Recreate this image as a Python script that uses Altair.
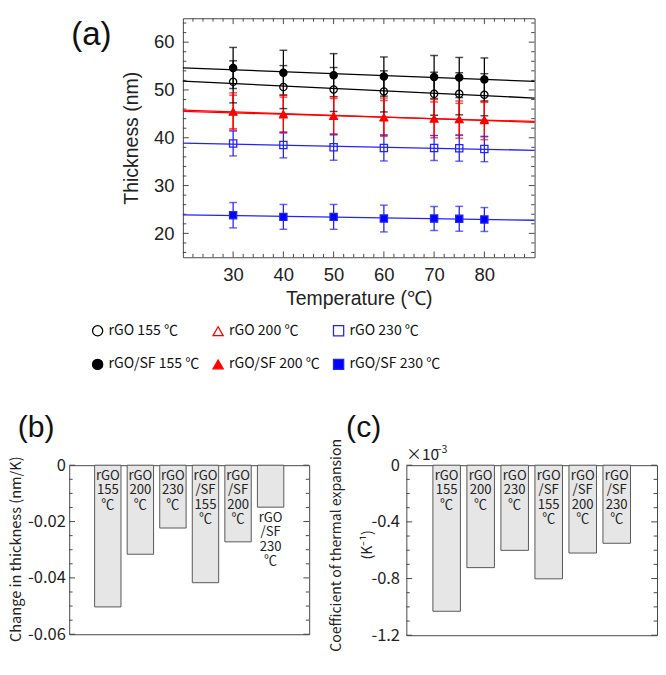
import altair as alt
import pandas as pd

# ---------------- panel (a) data ----------------
temps = [30, 40, 50, 60, 70, 75, 80]
series_names = ["rGO 155 ℃", "rGO 200 ℃", "rGO 230 ℃",
                "rGO/SF 155 ℃", "rGO/SF 200 ℃", "rGO/SF 230 ℃"]

rgo155 = [51.7, 50.6, 50.1, 49.7, 49.2, 49.2, 49.0]
rgo155_err = [4.4, 4.5, 4.6, 4.3, 4.5, 4.4, 4.4]
rgo200 = [45.5, 45.0, 44.6, 44.3, 44.0, 43.8, 43.6]
rgo200_err = [3.9, 4.0, 4.0, 4.0, 4.0, 3.9, 4.0]
rgo230 = [38.8, 38.5, 38.0, 37.85, 37.85, 37.8, 37.65]
rgo230_err = [2.6, 2.7, 2.7, 2.7, 2.6, 2.7, 2.65]
sf155 = [54.6, 53.6, 53.1, 52.8, 52.7, 52.6, 52.2]
sf155_err = [4.3, 4.7, 4.5, 4.1, 4.5, 4.2, 4.5]
sf200 = [45.4, 44.8, 44.5, 44.2, 44.0, 43.9, 43.8]
sf200_err = [3.5, 3.7, 3.7, 3.6, 3.5, 3.3, 3.6]
sf230 = [23.8, 23.45, 23.45, 23.1, 23.1, 23.05, 22.9]
sf230_err = [2.65, 2.6, 2.6, 2.8, 2.5, 2.6, 2.5]

series_colors = ["#000000", "#ff0000", "#2222ff", "#000000", "#ff0000", "#2222ff"]
series_fills = ["transparent", "transparent", "transparent", "#000000", "#ff0000", "#0000ff"]
series_shapes = ["circle", "triangle-up", "square", "circle", "triangle-up", "square"]
# legend order (filled column by column: two rows, three columns)
legend_order = [0, 3, 1, 4, 2, 5]

x_major = [30, 40, 50, 60, 70, 80]
x_minor = [22, 24, 26, 28, 32, 34, 36, 38, 42, 44, 46, 48, 52, 54, 56, 58,
           62, 64, 66, 68, 72, 74, 76, 78, 82, 84, 86, 88]
y_major = [20, 30, 40, 50, 60]
y_minor = [16, 18, 22, 24, 26, 28, 32, 34, 36, 38, 42, 44, 46, 48,
           52, 54, 56, 58, 62, 64]

# ---------------- panels (b) and (c) data ----------------
bar_cats = series_names
bar_labels = ["rGO|155|℃", "rGO|200|℃", "rGO|230|℃",
              "rGO|/SF|155|℃", "rGO|/SF|200|℃", "rGO|/SF|230|℃"]
b_values = [-0.0503, -0.0316, -0.0223, -0.0417, -0.0272, -0.0149]
b_inside = [True, True, True, True, True, False]
c_values = [-1.031, -0.723, -0.601, -0.802, -0.620, -0.551]
b_major = [0, -0.02, -0.04, -0.06]
b_minor = [-0.005, -0.01, -0.015, -0.025, -0.03, -0.035, -0.045, -0.05, -0.055]
c_major = [0, -0.4, -0.8, -1.2]
c_minor = [-0.1, -0.2, -0.3, -0.5, -0.6, -0.7, -0.9, -1.0, -1.1]

# ---------------- tables ----------------
rows = []
for i, (name, vals, errs) in enumerate(zip(
        series_names,
        [rgo155, rgo200, rgo230, sf155, sf200, sf230],
        [rgo155_err, rgo200_err, rgo230_err, sf155_err, sf200_err, sf230_err])):
    for t, v, e in zip(temps, vals, errs):
        rows.append({"series": name, "sid": i, "temp": t, "thick": v, "lo": v - e, "hi": v + e})
df = pd.DataFrame(rows)

LAB_FONT = "Liberation Sans"
KR_FONT = "Noto Sans CJK KR"
TICK_COLOR = "#444"
BOX = alt.ViewBackground(stroke="#444", strokeWidth=1)

# ---------------- panel (a) ----------------
W1, H1 = 362, 246
xs = alt.Scale(domain=[20, 90], nice=False, zero=False)
ys = alt.Scale(domain=[15, 65], nice=False, zero=False)
x_axis = alt.Axis(values=x_major, ticks=False, domain=False, grid=False,
                  labelFont=LAB_FONT, labelFontSize=19, labelPadding=9, labelColor="#222",
                  title="Temperature (℃)", titleFont=LAB_FONT, titleFontSize=20,
                  titleFontWeight="normal", titleColor="#222",
                  titleBaseline="alphabetic", titleY=49)
y_axis = alt.Axis(values=y_major, ticks=False, domain=False, grid=False,
                  labelFont=LAB_FONT, labelFontSize=19, labelPadding=9, labelColor="#222",
                  title="Thickness (nm)", titleFont=LAB_FONT, titleFontSize=20,
                  titleFontWeight="normal", titleColor="#222",
                  titleBaseline="alphabetic", titleX=-47, titleY=H1 / 2)


def X():
    return alt.X("temp:Q", scale=xs, axis=x_axis)


def Y(field="thick"):
    return alt.Y(f"{field}:Q", scale=ys, axis=y_axis)


leg_names = [series_names[i] for i in legend_order]
color_scale = alt.Scale(domain=list(range(len(series_names))), range=series_colors)
stroke_scale = alt.Scale(domain=leg_names, range=[series_colors[i] for i in legend_order])
fill_scale = alt.Scale(domain=leg_names, range=[series_fills[i] for i in legend_order])
shape_scale = alt.Scale(domain=leg_names, range=[series_shapes[i] for i in legend_order])
leg = alt.Legend(title=None, orient="none", legendX=-95, legendY=314, columns=3,
                 columnPadding=10, rowPadding=18, padding=0,
                 labelFont=KR_FONT, labelFontSize=14.5, labelColor="#111",
                 labelOffset=4, symbolSize=110, symbolStrokeWidth=1.3)

xtick_major = pd.DataFrame({"temp": x_major})
xtick_minor = pd.DataFrame({"temp": x_minor})
ytick_major = pd.DataFrame({"thick": y_major})
ytick_minor = pd.DataFrame({"thick": y_minor})


def xticks(d, ln):
    bot = alt.Chart(d).mark_rule(color=TICK_COLOR, strokeWidth=1).encode(
        x=X(), y=alt.value(H1), y2=alt.value(H1 - ln))
    top = alt.Chart(d).mark_rule(color=TICK_COLOR, strokeWidth=1).encode(
        x=X(), y=alt.value(0), y2=alt.value(ln))
    return [bot, top]


def yticks(d, ln):
    left = alt.Chart(d).mark_rule(color=TICK_COLOR, strokeWidth=1).encode(
        y=Y(), x=alt.value(0), x2=alt.value(ln))
    right = alt.Chart(d).mark_rule(color=TICK_COLOR, strokeWidth=1).encode(
        y=Y(), x=alt.value(W1), x2=alt.value(W1 - ln))
    return [left, right]


def C():
    return alt.Color("sid:N", scale=color_scale, legend=None)


base = alt.Chart(df)
fits = base.transform_regression("temp", "thick", groupby=["sid"], extent=[20, 90]).mark_line(
    strokeWidth=1.3).encode(x=X(), y=Y(), color=C(), detail="sid:N")
err_rules = base.mark_rule(strokeWidth=1.3).encode(x=X(), y=Y("lo"), y2="hi:Q", color=C())
cap_lo = base.mark_tick(orient="horizontal", size=8, thickness=1.5).encode(
    x=X(), y=Y("lo"), color=C())
cap_hi = base.mark_tick(orient="horizontal", size=8, thickness=1.5).encode(
    x=X(), y=Y("hi"), color=C())
points = base.mark_point(size=55, strokeWidth=1.3, opacity=1).encode(
    x=X(), y=Y(),
    shape=alt.Shape("series:N", scale=shape_scale, legend=leg),
    fill=alt.Fill("series:N", scale=fill_scale, legend=leg),
    stroke=alt.Stroke("series:N", scale=stroke_scale, legend=leg))

a_label = alt.Chart(pd.DataFrame({"t": ["(a)"]})).mark_text(
    font=LAB_FONT, fontSize=34, align="left", baseline="middle", color="#111").encode(
    text="t:N", x=alt.value(-115), y=alt.value(18))

top = alt.layer(
    *xticks(xtick_major, 6), *xticks(xtick_minor, 3.5),
    *yticks(ytick_major, 6), *yticks(ytick_minor, 3.5),
    fits, err_rules, cap_lo, cap_hi, points, a_label
).properties(width=W1, height=H1, view=BOX)

spacer = alt.Chart(pd.DataFrame({"t": [0]})).mark_point(opacity=0, size=1).encode(
    x=alt.value(0), y=alt.value(0)).properties(width=1, height=1)

# ---------------- panels (b), (c) ----------------
bdf = pd.DataFrame({"cat": bar_cats, "label": bar_labels, "val": b_values, "inside": b_inside})
cdf = pd.DataFrame({"cat": bar_cats, "label": bar_labels, "val": c_values})


def bar_panel(d, W, H, dom, major, minor, fmt, title, titleX, titleY, titleSize,
              labelPadding, tag, tagX):
    bx = alt.X("cat:N", sort=bar_cats,
               scale=alt.Scale(paddingInner=0.19, paddingOuter=0.78), axis=None)
    yaxis = alt.Axis(values=major, ticks=False, domain=False, grid=False,
                     labelFont=KR_FONT, labelFontSize=17, labelPadding=labelPadding,
                     labelColor="#222",
                     labelExpr=f"replace(format(datum.value, '{fmt}'), '\u2212', '-')",
                     title=title, titleFont=KR_FONT, titleFontSize=titleSize,
                     titleFontWeight="normal", titleColor="#222",
                     titleBaseline="alphabetic", titleX=titleX, titleY=titleY)
    ysc = alt.Scale(domain=dom, nice=False, zero=False)

    def BY(field="val"):
        return alt.Y(f"{field}:Q", scale=ysc, axis=yaxis)

    bars = alt.Chart(d).mark_bar(fill="#e6e6e6", stroke="#555", strokeWidth=1).encode(
        x=bx, y=BY())
    layers = []
    for vals, ln in ((major, 6), (minor, 3.5)):
        td = pd.DataFrame({"val": vals})
        layers.append(alt.Chart(td).mark_rule(color=TICK_COLOR, strokeWidth=1).encode(
            y=BY(), x=alt.value(0), x2=alt.value(ln)))
        layers.append(alt.Chart(td).mark_rule(color=TICK_COLOR, strokeWidth=1).encode(
            y=BY(), x=alt.value(W), x2=alt.value(W - ln)))
    txt_kwargs = dict(font=KR_FONT, fontSize=13.5, lineHeight=15, lineBreak="|",
                      baseline="top", align="center", color="#222")
    if "inside" in d.columns:
        inside = alt.Chart(d).transform_filter("datum.inside").mark_text(**txt_kwargs).encode(
            x=bx, y=alt.value(4), text="label:N")
        outside = alt.Chart(d).transform_filter("!datum.inside").mark_text(dy=4, **txt_kwargs).encode(
            x=bx, y=BY(), text="label:N")
        texts = [inside, outside]
    else:
        texts = [alt.Chart(d).mark_text(**txt_kwargs).encode(
            x=bx, y=alt.value(4), text="label:N")]
    tag_t = alt.Chart(pd.DataFrame({"t": [tag]})).mark_text(
        font=LAB_FONT, fontSize=31, align="left", baseline="middle", color="#111").encode(
        text="t:N", x=alt.value(tagX), y=alt.value(-38))
    return [bars, *layers, *texts, tag_t]


WB, HB = 247, 174
WC, HC = 258, 175
b = alt.layer(*bar_panel(bdf, WB, HB, [-0.06, 0], b_major, b_minor, ".2~f",
                         "Change in thickness (nm/K)", -50, 86, 15, 4, "(b)", -53)
              ).properties(width=WB, height=HB, view=BOX)

exp_df = pd.DataFrame({"t": ["×10"], "s": ["\u22123"], "u": ["(K\u207b\u00b9)"]})
c = alt.layer(
    *bar_panel(cdf, WC, HC, [-1.2, 0], c_major, c_minor, ".1~f",
               "Coefficient of thermal expansion", -68, 82, 14.5, 7, "(c)", -62),
    alt.Chart(exp_df).mark_text(font=KR_FONT, fontSize=14.5, angle=270, align="center",
                                baseline="alphabetic", color="#222").encode(
        text="u:N", x=alt.value(-35), y=alt.value(82)),
    alt.Chart(exp_df).mark_text(font=KR_FONT, fontSize=16, align="left", baseline="bottom",
                                color="#222").encode(text="t:N", x=alt.value(0), y=alt.value(-2)),
    alt.Chart(exp_df).mark_text(font=KR_FONT, fontSize=11, align="left", baseline="bottom",
                                color="#222").encode(text="s:N", x=alt.value(30), y=alt.value(-11)),
).properties(width=WC, height=HC, view=BOX)

indep = dict(shape="independent", fill="independent", stroke="independent",
             color="independent")
top_row = alt.hconcat(spacer, top, spacing=0).resolve_scale(**indep).resolve_legend(**indep)
bottom = alt.hconcat(b, c, spacing=18)
chart = alt.vconcat(top_row, bottom, spacing=39).resolve_scale(**indep).resolve_legend(
    **indep
).properties(
    padding={"left": 0, "top": 0, "right": 0, "bottom": 0}
).configure_view(stroke=None)

chart.save("out.html", embed_options={"renderer": "svg", "actions": False})
